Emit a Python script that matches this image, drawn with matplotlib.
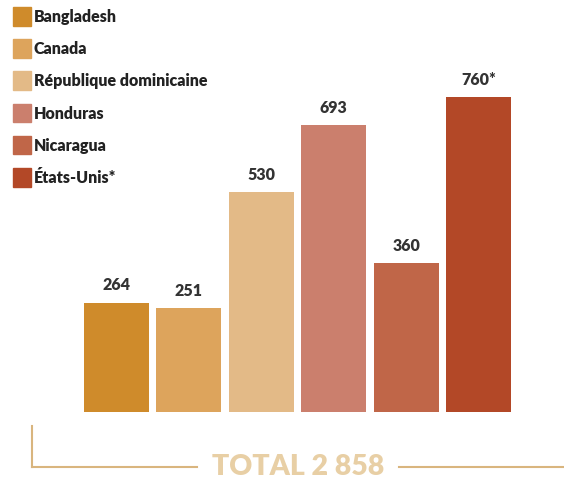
import matplotlib.pyplot as plt
from matplotlib.patches import Rectangle
from matplotlib.lines import Line2D

plt.rcParams['font.family'] = ['Lato', 'DejaVu Sans']

pays = ["Bangladesh", "Canada", "République dominicaine", "Honduras", "Nicaragua", "États-Unis*"]
valeurs = [264, 251, 530, 693, 360, 760]
etiquettes = ["264", "251", "530", "693", "360", "760*"]
couleurs = ["#cf8b2b", "#dda45c", "#e3ba87", "#cb7f6d", "#c06648", "#b34827"]
total_texte = "TOTAL 2 858"

W, H = 564, 479
fig = plt.figure(figsize=(W / 100, H / 100), dpi=100)

# axe des barres : bas a y=412 px, centres espaces de 72.4 px
ax = fig.add_axes([0, (H - 412) / H, 1, 412 / H])
pas = 72.4
x0 = 116.5
ax.set_xlim(-x0 / pas, (W - x0) / pas)
ax.set_ylim(0, 412 / 0.4145)
pos = list(range(len(valeurs)))
ax.bar(pos, valeurs, width=65 / pas, color=couleurs)
for i, v in enumerate(valeurs):
    ax.text(i, v + 22, etiquettes[i], ha='center', va='bottom',
            fontsize=11.5, fontweight='heavy', color='#333333')
ax.axis('off')

# legende
for i, (p, c) in enumerate(zip(pays, couleurs)):
    y_haut = 7 + i * 32.2
    fig.patches.append(Rectangle((13 / W, 1 - (y_haut + 18.5) / H), 18 / W, 18.5 / H,
                                 transform=fig.transFigure, color=c, figure=fig))
    fig.text(34 / W, 1 - (y_haut + 10) / H, p, ha='left', va='center',
             fontsize=11.5, fontweight='heavy', color='#222222')

# total en bas
trait = '#d9b57e'
fig.lines.append(Line2D([32 / W, 32 / W], [1 - 426 / H, 1 - 467 / H],
                        transform=fig.transFigure, color=trait, lw=1.5))
fig.lines.append(Line2D([32 / W, 197 / W], [1 - 467 / H, 1 - 467 / H],
                        transform=fig.transFigure, color=trait, lw=1.5))
fig.lines.append(Line2D([399 / W, 1], [1 - 467 / H, 1 - 467 / H],
                        transform=fig.transFigure, color=trait, lw=1.5))
fig.text(298 / W, 1 - 467 / H, total_texte, ha='center', va='center',
         fontsize=20.5, fontweight='heavy', color='#e8cfa5')

fig.savefig("out.png", dpi=100)
